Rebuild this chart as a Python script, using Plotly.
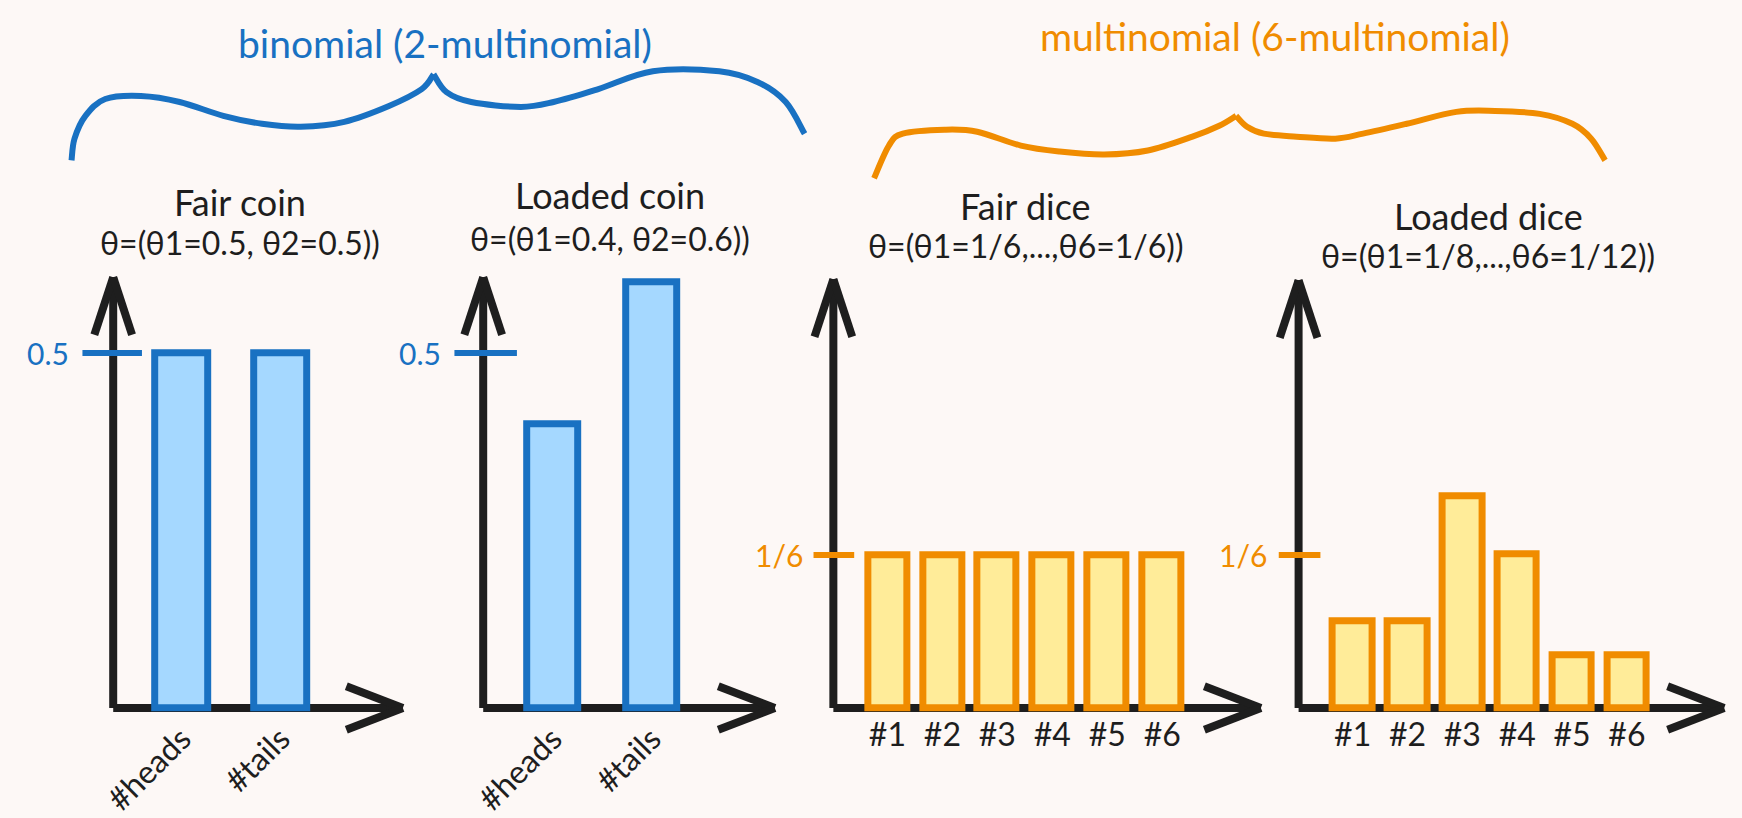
import plotly.graph_objects as go

# ---------------- data ----------------
coin_categories = ["#heads", "#tails"]
dice_categories = ["#1", "#2", "#3", "#4", "#5", "#6"]
fair_coin = [0.5, 0.5]
loaded_coin = [0.4, 0.6]
fair_dice = [1 / 6] * 6
loaded_dice = [0.094, 0.094, 0.231, 0.167, 0.058, 0.058]
coin_tick_value = 0.5
coin_tick_label = "0.5"
dice_tick_value = 1 / 6
dice_tick_label = "1/6"
panel_names = ["Fair coin", "Loaded coin", "Fair dice", "Loaded dice"]
panel_params = ["θ=(θ1=0.5, θ2=0.5))", "θ=(θ1=0.4, θ2=0.6))",
                "θ=(θ1=1/6,...,θ6=1/6))", "θ=(θ1=1/8,...,θ6=1/12))"]
group_titles = ["binomial (2-multinomial)", "multinomial (6-multinomial)"]

# ---------------- style ----------------
W, H = 1742, 818
BG = "#fdf8f6"
INK = "#1e1e1e"
BLUE, BLUE_FILL = "#1971c2", "#a5d8ff"
ORANGE, YELLOW = "#f08c00", "#ffec99"
FONT = "Lato"
BASE_Y = 715  # pixel row of the x axes


def px(x, y):
    return x / W, 1 - y / H


panels = [
    dict(cats=coin_categories, vals=fair_coin, ox=100, xtip=392, ytop=280, c0=169, step=100, bw=0.53,
         scale=717, color=BLUE, fill=BLUE_FILL, tick=coin_tick_value, ticklab=coin_tick_label,
         tl=(-31, 29), labx=-43, angle=-45, tx=228, ty=(204, 245)),
    dict(cats=coin_categories, vals=loaded_coin, ox=473, xtip=767, ytop=280, c0=543, step=100, bw=0.51,
         scale=717, color=BLUE, fill=BLUE_FILL, tick=coin_tick_value, ticklab=coin_tick_label,
         tl=(-29, 34), labx=-41, angle=-45, tx=601, ty=(197, 241)),
    dict(cats=dice_categories, vals=fair_dice, ox=826, xtip=1257, ytop=282, c0=880.5, step=55.4, bw=0.71,
         scale=927, color=ORANGE, fill=YELLOW, tick=dice_tick_value, ticklab=dice_tick_label,
         tl=(-20, 21), labx=-29, angle=0, tx=1020, ty=(208, 248)),
    dict(cats=dice_categories, vals=loaded_dice, ox=1295, xtip=1724, ytop=283, c0=1349.5, step=55.3, bw=0.72,
         scale=927, color=ORANGE, fill=YELLOW, tick=dice_tick_value, ticklab=dice_tick_label,
         tl=(-20, 22), labx=-30, angle=0, tx=1486, ty=(218, 258)),
]

fig = go.Figure()
shapes = []
annotations = []
layout_axes = {}

for i, p in enumerate(panels):
    n = i + 1
    xa = "x" if n == 1 else f"x{n}"
    ya = "y" if n == 1 else f"y{n}"
    fig.add_trace(go.Bar(
        x=p["cats"], y=p["vals"], width=p["bw"],
        marker=dict(color=p["fill"], line=dict(color=p["color"], width=7)),
        xaxis=xa, yaxis=ya, hoverinfo="skip", showlegend=False))

    bottom_px = BASE_Y + 5
    layout_axes[f"xaxis{n}"] = dict(
        domain=[p["ox"] / W, p["xtip"] / W], anchor=ya, type="category",
        range=[(p["ox"] - p["c0"]) / p["step"], (p["xtip"] - p["c0"]) / p["step"]],
        showgrid=False, zeroline=False, showline=False, ticks="",
        tickangle=p["angle"], tickfont=dict(family=FONT, size=32, color=INK),
        fixedrange=True)
    layout_axes[f"yaxis{n}"] = dict(
        domain=[1 - bottom_px / H, 1 - p["ytop"] / H], anchor=xa,
        range=[-(bottom_px - BASE_Y) / p["scale"], (BASE_Y - p["ytop"]) / p["scale"]],
        showgrid=False, zeroline=False, showline=False, showticklabels=False, ticks="",
        fixedrange=True)

    ox, xt, yt = p["ox"], p["xtip"], p["ytop"]
    # axis lines + chevron arrow heads
    for (x0, y0, x1, y1) in [(ox, BASE_Y, ox, yt), (ox, BASE_Y, xt, BASE_Y),
                             (ox - 19, yt + 58, ox, yt), (ox + 19, yt + 58, ox, yt),
                             (xt - 57, BASE_Y - 22, xt, BASE_Y), (xt - 57, BASE_Y + 22, xt, BASE_Y)]:
        a, b = px(x0, y0)
        c, d = px(x1, y1)
        shapes.append(dict(type="line", xref="paper", yref="paper", x0=a, y0=b, x1=c, y1=d,
                           line=dict(color=INK, width=8), layer="below"))
    # value tick mark on the y axis
    shapes.append(dict(type="line", xref="paper", yref=ya,
                       x0=(ox + p["tl"][0]) / W, x1=(ox + p["tl"][1]) / W,
                       y0=p["tick"], y1=p["tick"], line=dict(color=p["color"], width=6), layer="above"))
    annotations.append(dict(text=p["ticklab"], xref="paper", yref=ya, x=(ox + p["labx"]) / W, y=p["tick"],
                            xanchor="right", yanchor="middle", showarrow=False,
                            font=dict(family=FONT, size=30, color=p["color"])))
    # panel titles
    annotations.append(dict(text=panel_names[i], xref="paper", yref="paper",
                            x=p["tx"] / W, y=1 - p["ty"][0] / H, xanchor="center", yanchor="middle",
                            showarrow=False, font=dict(family=FONT, size=36, color=INK)))
    annotations.append(dict(text=panel_params[i], xref="paper", yref="paper",
                            x=p["tx"] / W, y=1 - p["ty"][1] / H, xanchor="center", yanchor="middle",
                            showarrow=False, font=dict(family=FONT, size=32, color=INK)))

# group titles
annotations.append(dict(text=group_titles[0], xref="paper", yref="paper", x=434 / W, y=1 - 43 / H,
                        xanchor="center", yanchor="middle", showarrow=False,
                        font=dict(family=FONT, size=39, color=BLUE)))
annotations.append(dict(text=group_titles[1], xref="paper", yref="paper", x=1271 / W, y=1 - 36 / H,
                        xanchor="center", yanchor="middle", showarrow=False,
                        font=dict(family=FONT, size=39, color=ORANGE)))


def smooth_path(pts):
    s = "M {:.5f},{:.5f}".format(*px(*pts[0]))
    for k in range(len(pts) - 1):
        p0 = pts[k - 1] if k > 0 else pts[k]
        p1, p2 = pts[k], pts[k + 1]
        p3 = pts[k + 2] if k + 2 < len(pts) else pts[k + 1]
        c1 = (p1[0] + (p2[0] - p0[0]) / 6, p1[1] + (p2[1] - p0[1]) / 6)
        c2 = (p2[0] - (p3[0] - p1[0]) / 6, p2[1] - (p3[1] - p1[1]) / 6)
        s += " C {:.5f},{:.5f} {:.5f},{:.5f} {:.5f},{:.5f}".format(*px(*c1), *px(*c2), *px(*p2))
    return s


blue_left = [(58, 162), (61, 140), (72, 117), (92, 100), (128, 97), (167, 103), (211, 117), (250, 125),
             (289, 128), (333, 123), (378, 107), (411, 90), (423, 75)]
blue_right = [(423, 75), (436, 93), (461, 103), (511, 108), (544, 103), (589, 90), (644, 72), (711, 72),
              (750, 83), (778, 103), (797, 135)]
orange_left = [(867, 180), (882, 147), (896, 135), (938, 131), (971, 133), (1015, 147), (1054, 153),
               (1099, 156), (1143, 152), (1188, 138), (1215, 127), (1232, 117)]
orange_right = [(1232, 117), (1243, 128), (1260, 135), (1293, 138), (1332, 140), (1360, 135), (1404, 125),
                (1454, 113), (1493, 112), (1538, 115), (1571, 125), (1590, 140), (1604, 162)]
for pts, col in [(blue_left, BLUE), (blue_right, BLUE), (orange_left, ORANGE), (orange_right, ORANGE)]:
    shapes.append(dict(type="path", xref="paper", yref="paper", path=smooth_path(pts),
                       line=dict(color=col, width=6), layer="above"))

fig.update_layout(
    width=W, height=H, margin=dict(l=0, r=0, t=0, b=0),
    paper_bgcolor=BG, plot_bgcolor=BG, bargap=0,
    shapes=shapes, annotations=annotations, showlegend=False,
    **layout_axes)

fig.write_html("out.html", config=dict(displayModeBar=False),
               post_script="document.body.style.margin='0';document.body.style.overflow='hidden';"
                           "document.body.style.background='" + BG + "';")
